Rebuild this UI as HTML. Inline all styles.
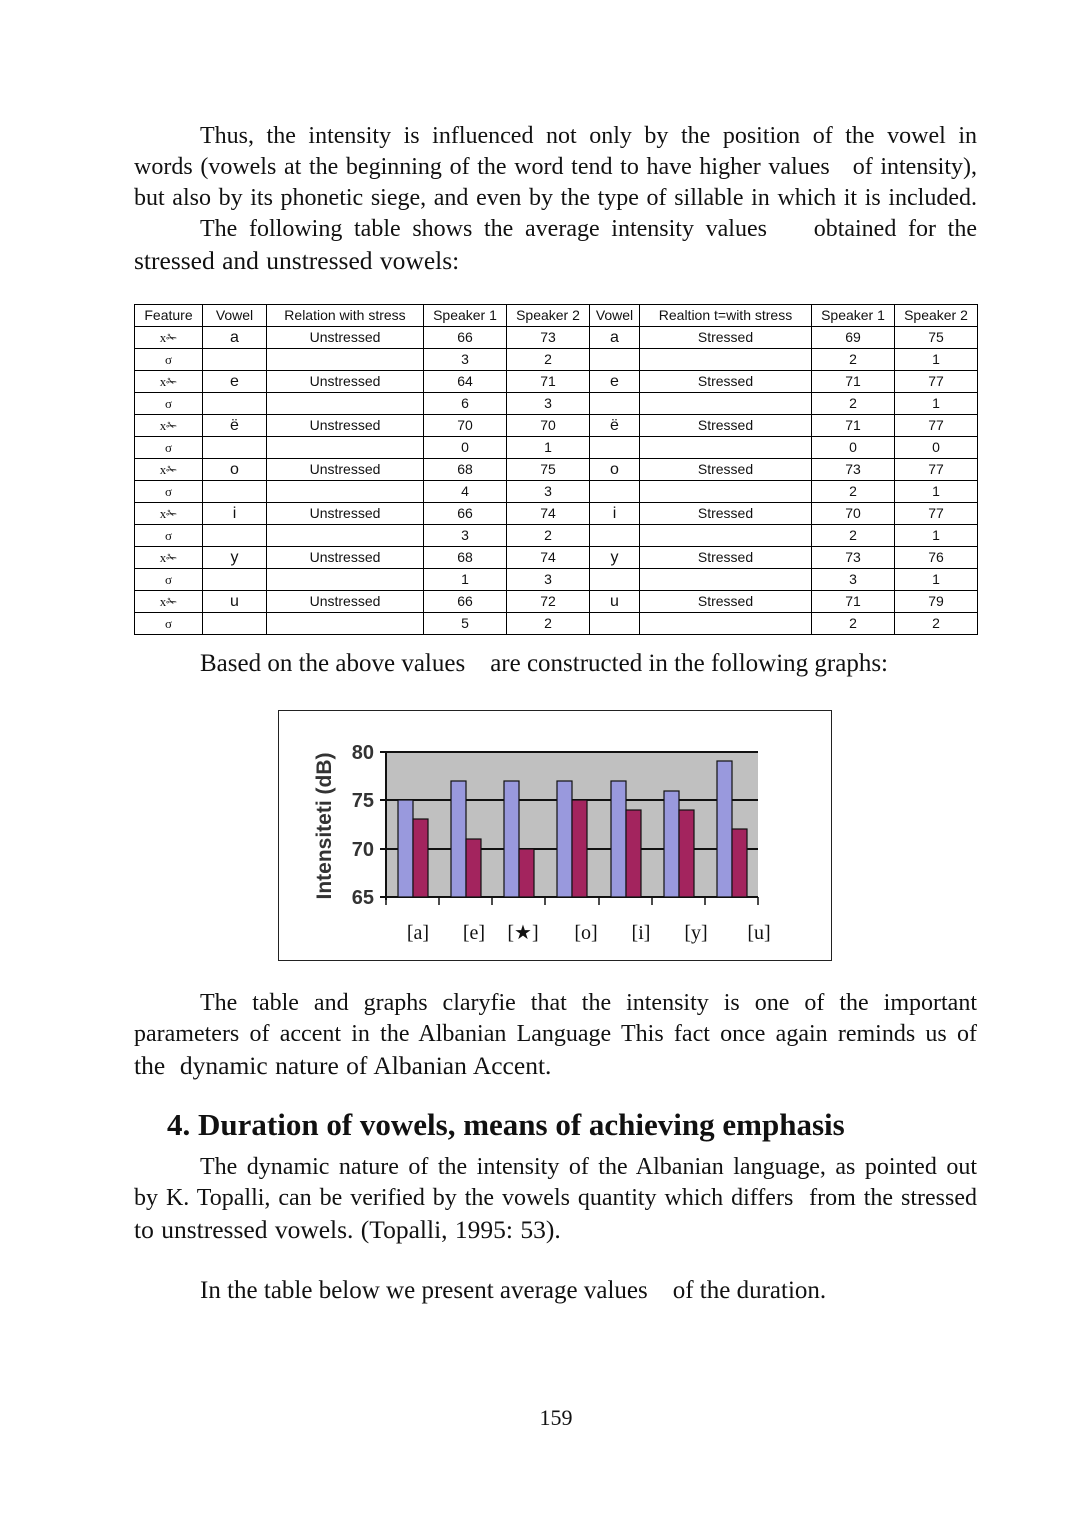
<!DOCTYPE html>
<html><head><meta charset="utf-8"><style>
body{margin:0;width:1080px;height:1536px;background:#fff;position:relative;font-family:"Liberation Serif",serif;color:#111}
.l{position:absolute;left:134px;width:843px;font-size:24px;line-height:31px;white-space:nowrap;text-align:justify;text-align-last:justify;margin:0}
.e{text-align-last:left;font-size:25.5px;word-spacing:1px}
.i{left:200px;width:777px}
table{position:absolute;left:134px;top:304px;border-collapse:collapse;font-family:"Liberation Sans",sans-serif;font-size:14px;table-layout:fixed}
td{border:1px solid #000;text-align:center;height:21px;padding:0;line-height:21px}
.s{font-family:"Liberation Serif",serif;font-size:13px}
.v{font-size:16px}
</style></head><body>
<div class="l i" style="top:121px">Thus, the intensity is influenced not only by the position of the vowel in</div>
<div class="l" style="top:152px">words (vowels at the beginning of the word tend to have higher values &nbsp; of intensity),</div>
<div class="l" style="top:183px">but also by its phonetic siege, and even by the type of sillable in which it is included.</div>
<div class="l i" style="top:214px">The following table shows the average intensity values &nbsp;&nbsp; obtained for the</div>
<div class="l e" style="top:245px">stressed and unstressed vowels:</div>
<table>
<colgroup><col style="width:68px"><col style="width:64px"><col style="width:157px"><col style="width:83px"><col style="width:83px"><col style="width:50px"><col style="width:172px"><col style="width:83px"><col style="width:83px"></colgroup>
<tr><td>Feature</td><td>Vowel</td><td>Relation with stress</td><td>Speaker 1</td><td>Speaker 2</td><td>Vowel</td><td>Realtion t=with stress</td><td>Speaker 1</td><td>Speaker 2</td></tr>
<tr><td class="s">x✁</td><td class="v">a</td><td>Unstressed</td><td>66</td><td>73</td><td class="v">a</td><td>Stressed</td><td>69</td><td>75</td></tr>
<tr><td class="s">σ</td><td></td><td></td><td>3</td><td>2</td><td></td><td></td><td>2</td><td>1</td></tr>
<tr><td class="s">x✁</td><td class="v">e</td><td>Unstressed</td><td>64</td><td>71</td><td class="v">e</td><td>Stressed</td><td>71</td><td>77</td></tr>
<tr><td class="s">σ</td><td></td><td></td><td>6</td><td>3</td><td></td><td></td><td>2</td><td>1</td></tr>
<tr><td class="s">x✁</td><td class="v">ë</td><td>Unstressed</td><td>70</td><td>70</td><td class="v">ë</td><td>Stressed</td><td>71</td><td>77</td></tr>
<tr><td class="s">σ</td><td></td><td></td><td>0</td><td>1</td><td></td><td></td><td>0</td><td>0</td></tr>
<tr><td class="s">x✁</td><td class="v">o</td><td>Unstressed</td><td>68</td><td>75</td><td class="v">o</td><td>Stressed</td><td>73</td><td>77</td></tr>
<tr><td class="s">σ</td><td></td><td></td><td>4</td><td>3</td><td></td><td></td><td>2</td><td>1</td></tr>
<tr><td class="s">x✁</td><td class="v">i</td><td>Unstressed</td><td>66</td><td>74</td><td class="v">i</td><td>Stressed</td><td>70</td><td>77</td></tr>
<tr><td class="s">σ</td><td></td><td></td><td>3</td><td>2</td><td></td><td></td><td>2</td><td>1</td></tr>
<tr><td class="s">x✁</td><td class="v">y</td><td>Unstressed</td><td>68</td><td>74</td><td class="v">y</td><td>Stressed</td><td>73</td><td>76</td></tr>
<tr><td class="s">σ</td><td></td><td></td><td>1</td><td>3</td><td></td><td></td><td>3</td><td>1</td></tr>
<tr><td class="s">x✁</td><td class="v">u</td><td>Unstressed</td><td>66</td><td>72</td><td class="v">u</td><td>Stressed</td><td>71</td><td>79</td></tr>
<tr><td class="s">σ</td><td></td><td></td><td>5</td><td>2</td><td></td><td></td><td>2</td><td>2</td></tr>
</table>
<div class="l i e" style="top:648px;font-size:25px;word-spacing:0">Based on the above values &nbsp;&nbsp; are constructed in the following graphs:</div>
<svg style="position:absolute;left:0;top:0" width="1080" height="1536">
<rect x="278.5" y="710.5" width="553" height="250" fill="#fff" stroke="#222" stroke-width="1"/>
<rect x="386" y="752" width="372" height="145" fill="#c0c0c0"/>
<g stroke="#111" stroke-width="2">
<line x1="380" y1="752" x2="758" y2="752"/><line x1="380" y1="800" x2="758" y2="800"/>
<line x1="380" y1="849" x2="758" y2="849"/><line x1="380" y1="897" x2="758" y2="897"/>
<line x1="386" y1="752" x2="386" y2="900"/>
</g>
<g stroke="#111" stroke-width="1.5">
<line x1="386" y1="897" x2="386" y2="905"/><line x1="439" y1="897" x2="439" y2="905"/><line x1="492" y1="897" x2="492" y2="905"/><line x1="545" y1="897" x2="545" y2="905"/><line x1="599" y1="897" x2="599" y2="905"/><line x1="652" y1="897" x2="652" y2="905"/><line x1="705" y1="897" x2="705" y2="905"/><line x1="758" y1="897" x2="758" y2="905"/>
</g>
<g stroke="#111" stroke-width="1.2">
<rect x="398" y="800" width="15" height="97" fill="#9999dd"/><rect x="413" y="819" width="15" height="78" fill="#a3245e"/>
<rect x="451" y="781" width="15" height="116" fill="#9999dd"/><rect x="466" y="839" width="15" height="58" fill="#a3245e"/>
<rect x="504" y="781" width="15" height="116" fill="#9999dd"/><rect x="519" y="849" width="15" height="48" fill="#a3245e"/>
<rect x="557" y="781" width="15" height="116" fill="#9999dd"/><rect x="572" y="800" width="15" height="97" fill="#a3245e"/>
<rect x="611" y="781" width="15" height="116" fill="#9999dd"/><rect x="626" y="810" width="15" height="87" fill="#a3245e"/>
<rect x="664" y="791" width="15" height="106" fill="#9999dd"/><rect x="679" y="810" width="15" height="87" fill="#a3245e"/>
<rect x="717" y="761" width="15" height="136" fill="#9999dd"/><rect x="732" y="829" width="15" height="68" fill="#a3245e"/>
</g>
<g font-family="Liberation Sans,sans-serif" font-weight="bold" font-size="20" fill="#333" text-anchor="end">
<text x="374" y="759">80</text><text x="374" y="807">75</text><text x="374" y="856">70</text><text x="374" y="904">65</text>
</g>
<text transform="translate(331,826) rotate(-90)" text-anchor="middle" font-family="Liberation Sans,sans-serif" font-weight="bold" font-size="21" fill="#333">Intensiteti (dB)</text>
<g font-family="Liberation Serif,serif" font-size="20" fill="#111" text-anchor="middle">
<text x="418" y="939">[a]</text><text x="474" y="939">[e]</text><text x="523" y="939">[★]</text><text x="586" y="939">[o]</text><text x="641" y="939">[i]</text><text x="696" y="939">[y]</text><text x="759" y="939">[u]</text>
</g>
</svg>
<div class="l i" style="top:988px">The table and graphs claryfie that the intensity is one of the important</div>
<div class="l" style="top:1019px">parameters of accent in the Albanian Language This fact once again reminds us of</div>
<div class="l e" style="top:1050px">the &nbsp;dynamic nature of Albanian Accent.</div>
<div style="position:absolute;left:167px;top:1106px;font-size:31px;font-weight:bold;line-height:38px">4. Duration of vowels, means of achieving emphasis</div>
<div class="l i" style="top:1152px">The dynamic nature of the intensity of the Albanian language, as pointed out</div>
<div class="l" style="top:1183px">by K. Topalli, can be verified by the vowels quantity which differs &nbsp;from the stressed</div>
<div class="l e" style="top:1214px">to unstressed vowels. (Topalli, 1995: 53).</div>
<div class="l i e" style="top:1275px;font-size:25px;word-spacing:0">In the table below we present average values &nbsp;&nbsp; of the duration.</div>
<div style="position:absolute;left:0;width:1112px;top:1405px;text-align:center;font-size:22px">159</div>
</body></html>
